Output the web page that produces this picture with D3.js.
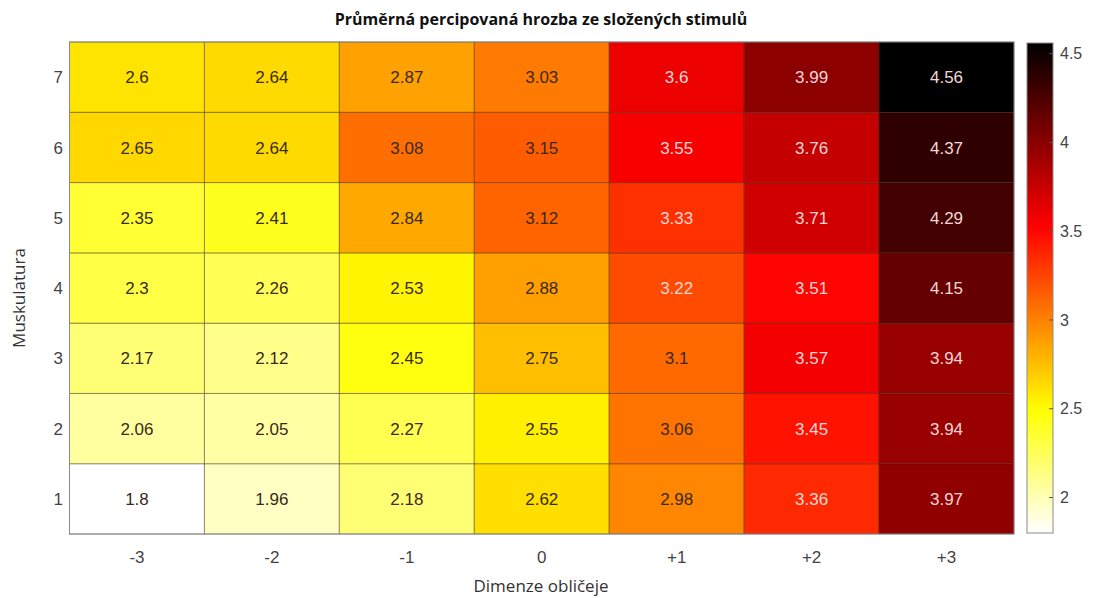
<!DOCTYPE html>
<html>
<head>
<meta charset="utf-8">
<script src="https://cdn.jsdelivr.net/npm/d3@7"></script>
<style>
  body { margin: 0; background: #fff; }
  svg { display: block; }
</style>
</head>
<body>
<div id="chart"></div>
<script>
var svgWidth = 1094;
var svgHeight = 598;

// data
var xLabels = ["-3", "-2", "-1", "0", "+1", "+2", "+3"];
var yLabels = ["1", "2", "3", "4", "5", "6", "7"];
var row1 = [1.8, 1.96, 2.18, 2.62, 2.98, 3.36, 3.97];
var row2 = [2.06, 2.05, 2.27, 2.55, 3.06, 3.45, 3.94];
var row3 = [2.17, 2.12, 2.45, 2.75, 3.1, 3.57, 3.94];
var row4 = [2.3, 2.26, 2.53, 2.88, 3.22, 3.51, 4.15];
var row5 = [2.35, 2.41, 2.84, 3.12, 3.33, 3.71, 4.29];
var row6 = [2.65, 2.64, 3.08, 3.15, 3.55, 3.76, 4.37];
var row7 = [2.6, 2.64, 2.87, 3.03, 3.6, 3.99, 4.56];
var rows = [row1, row2, row3, row4, row5, row6, row7];
var colorTicks = [2, 2.5, 3, 3.5, 4, 4.5];

var cells = [];
rows.forEach((r, i) => {
  r.forEach((v, j) => {
    cells.push({x: xLabels[j], y: yLabels[i], value: v});
  });
});

var plot = {left: 69.5, right: 1014, top: 42, bottom: 534};

var svg = d3.select("#chart")
  .append("svg")
    .attr("width", svgWidth)
    .attr("height", svgHeight);

var xScale = d3.scaleBand().domain(xLabels).range([plot.left, plot.right]);
var yScale = d3.scaleBand().domain(yLabels).range([plot.bottom, plot.top]);

var vmin = d3.min(cells, d => d.value);
var vmax = d3.max(cells, d => d.value);

// flipped MATLAB "hot" colormap
function hot(t) {
  var r = Math.min(1, t / 0.375);
  var g = Math.max(0, Math.min(1, (t - 0.375) / 0.375));
  var b = Math.max(0, Math.min(1, (t - 0.75) / 0.25));
  return [r, g, b];
}
var tScale = d3.scaleLinear().domain([vmin, vmax]).range([1, 0]).clamp(true);
function colorOf(v) {
  var c = hot(tScale(v));
  return d3.rgb(c[0] * 255, c[1] * 255, c[2] * 255);
}
function isDark(v) {
  var c = hot(tScale(v));
  return (0.2989 * c[0] + 0.587 * c[1] + 0.114 * c[2]) < 0.5;
}

var cellGroup = svg.append("g");
cellGroup.selectAll("rect")
  .data(cells)
  .enter()
  .append("rect")
    .attr("x", d => xScale(d.x))
    .attr("y", d => yScale(d.y))
    .attr("width", xScale.bandwidth())
    .attr("height", yScale.bandwidth())
    .attr("fill", d => colorOf(d.value))
    .attr("stroke", "rgba(60,40,20,0.45)")
    .attr("stroke-width", 1);

cellGroup.selectAll("text")
  .data(cells)
  .enter()
  .append("text")
    .attr("x", d => xScale(d.x) + xScale.bandwidth() / 2)
    .attr("y", d => yScale(d.y) + yScale.bandwidth() / 2)
    .attr("dy", "0.36em")
    .attr("text-anchor", "middle")
    .attr("font-family", "Liberation Sans, Arial, sans-serif")
    .attr("font-size", "17px")
    .attr("fill", d => isDark(d.value) ? "#f3d6d6" : "#3a2a1a")
    .text(d => d.value);

svg.append("rect")
  .attr("x", plot.left).attr("y", plot.top)
  .attr("width", plot.right - plot.left).attr("height", plot.bottom - plot.top)
  .attr("fill", "none")
  .attr("stroke", "#8a8a8a")
  .attr("stroke-width", 1);

// axis tick labels
svg.append("g").selectAll("text")
  .data(xLabels)
  .enter()
  .append("text")
    .attr("x", d => xScale(d) + xScale.bandwidth() / 2)
    .attr("y", 563)
    .attr("text-anchor", "middle")
    .attr("font-family", "Liberation Sans, Arial, sans-serif")
    .attr("font-size", "17px")
    .attr("fill", "#444")
    .text(d => d);

svg.append("g").selectAll("text")
  .data(yLabels)
  .enter()
  .append("text")
    .attr("x", 63)
    .attr("y", d => yScale(d) + yScale.bandwidth() / 2)
    .attr("dy", "0.36em")
    .attr("text-anchor", "end")
    .attr("font-family", "Liberation Sans, Arial, sans-serif")
    .attr("font-size", "17px")
    .attr("fill", "#444")
    .text(d => d);

// colorbar
var cb = {left: 1027, right: 1053, top: 43, bottom: 533};
var cScale = d3.scaleLinear().domain([vmin, vmax]).range([cb.bottom, cb.top]);

var defs = svg.append("defs");
var grad = defs.append("linearGradient")
  .attr("id", "cbGrad")
  .attr("x1", 0).attr("y1", 1).attr("x2", 0).attr("y2", 0);
d3.range(0, 1.0001, 0.02).forEach(f => {
  var v = vmin + f * (vmax - vmin);
  grad.append("stop")
    .attr("offset", f)
    .attr("stop-color", colorOf(v));
});

svg.append("rect")
  .attr("x", cb.left).attr("y", cb.top)
  .attr("width", cb.right - cb.left).attr("height", cb.bottom - cb.top)
  .attr("fill", "url(#cbGrad)")
  .attr("stroke", "#8a8a8a")
  .attr("stroke-width", 1);

var cbAxis = svg.append("g");
cbAxis.selectAll("line")
  .data(colorTicks)
  .enter()
  .append("line")
    .attr("x1", cb.right - 4).attr("x2", cb.right)
    .attr("y1", d => cScale(d)).attr("y2", d => cScale(d))
    .attr("stroke", "#555");
cbAxis.selectAll("text")
  .data(colorTicks)
  .enter()
  .append("text")
    .attr("x", 1060)
    .attr("y", d => cScale(d))
    .attr("dy", "0.36em")
    .attr("font-family", "Liberation Sans, Arial, sans-serif")
    .attr("font-size", "16px")
    .attr("fill", "#444")
    .text(d => d);

// titles
svg.append("text")
  .attr("x", 541)
  .attr("y", 25)
  .attr("text-anchor", "middle")
  .attr("font-family", "Open Sans, Noto Sans, sans-serif")
  .attr("font-weight", "bold")
  .attr("font-size", "16px")
  .attr("fill", "#111")
  .text("Průměrná percipovaná hrozba ze složených stimulů");

svg.append("text")
  .attr("x", 541)
  .attr("y", 592)
  .attr("text-anchor", "middle")
  .attr("font-family", "Open Sans, Noto Sans, sans-serif")
  .attr("font-size", "17px")
  .attr("fill", "#333")
  .text("Dimenze obličeje");

svg.append("text")
  .attr("transform", "rotate(-90)")
  .attr("x", -298)
  .attr("y", 25)
  .attr("text-anchor", "middle")
  .attr("font-family", "Open Sans, Noto Sans, sans-serif")
  .attr("font-size", "17px")
  .attr("fill", "#333")
  .text("Muskulatura");
</script>
</body>
</html>
